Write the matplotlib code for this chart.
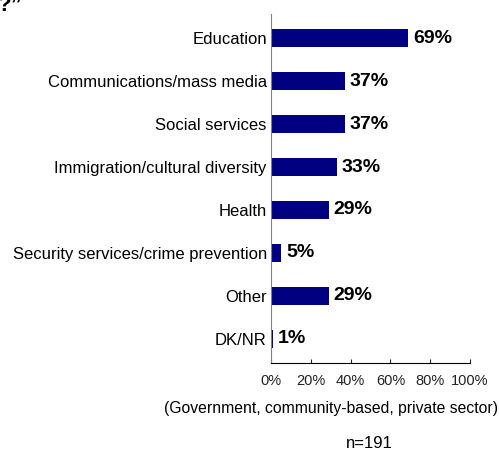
import matplotlib
matplotlib.use("Agg")
import matplotlib.pyplot as plt
from matplotlib.ticker import PercentFormatter

plt.rcParams['font.family'] = ['Liberation Sans', 'DejaVu Sans']

categories = ["Education", "Communications/mass media", "Social services",
              "Immigration/cultural diversity", "Health",
              "Security services/crime prevention", "Other", "DK/NR"]
values = [69, 37, 37, 33, 29, 5, 29, 1]
xticks = [0, 20, 40, 60, 80, 100]

fig = plt.figure(figsize=(4.99, 4.54), dpi=100)
ax = fig.add_axes([271 / 499, 1 - 363 / 454, 199 / 499, 349 / 454])

pos = list(range(len(categories)))
ax.barh(pos, values, height=0.4, color="#000080")
for p, v in zip(pos, values):
    ax.text(v + 2.5, p, f"{v}%", va="center", ha="left", fontsize=14, fontweight="bold")

ax.set_ylim(len(categories) - 0.44, -0.56)
ax.set_xlim(0, 100)
ax.set_yticks(pos)
ax.set_yticklabels(categories, fontsize=12)
ax.tick_params(axis="y", length=0, pad=3)
ax.set_xticks(xticks)
ax.xaxis.set_major_formatter(PercentFormatter(decimals=0))
ax.tick_params(axis="x", direction="in", length=3, labelsize=10.5, pad=8, colors="#222222")

for s in ["top", "right"]:
    ax.spines[s].set_visible(False)
ax.spines["left"].set_color("#808080")
ax.spines["bottom"].set_color("black")

fig.text(331 / 499, 1 - 409 / 454, "(Government, community-based, private sector)",
         ha="center", va="center", fontsize=11.3)
fig.text(369 / 499, 1 - 443 / 454, "n=191", ha="center", va="center", fontsize=12)
fig.text(-0.004, 1 - 11 / 454, "?\u201d", ha="left", va="baseline", fontsize=16, fontweight="bold")

fig.savefig("out.png", dpi=100)
